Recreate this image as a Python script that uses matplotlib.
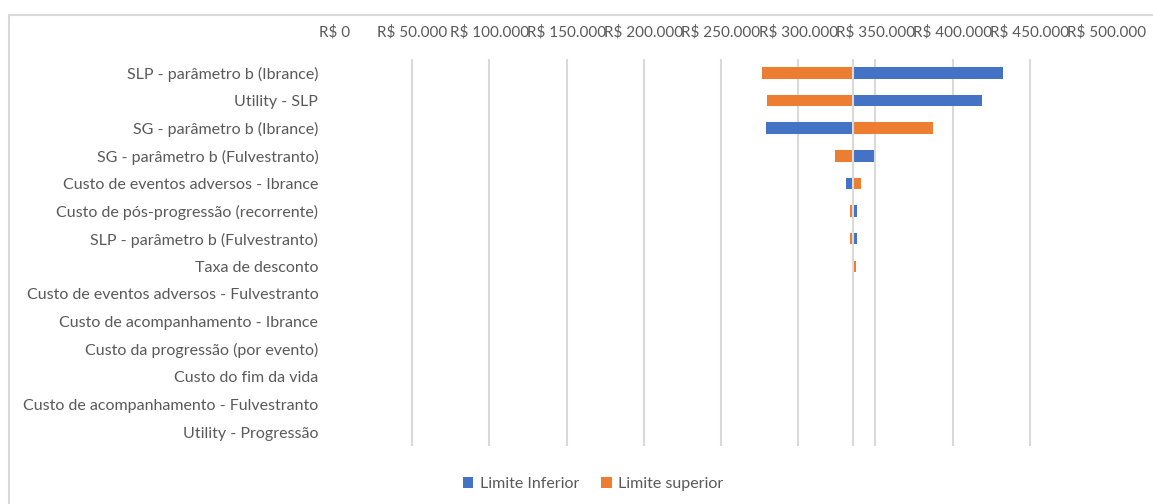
import numpy as np
import matplotlib.pyplot as plt
from matplotlib.patches import Rectangle

plt.rcParams["font.family"] = ["Lato", "DejaVu Sans"]

params = [
    "SLP - parâmetro b (Ibrance)",
    "Utility - SLP",
    "SG - parâmetro b (Ibrance)",
    "SG - parâmetro b (Fulvestranto)",
    "Custo de eventos adversos - Ibrance",
    "Custo de pós-progressão (recorrente)",
    "SLP - parâmetro b (Fulvestranto)",
    "Taxa de desconto",
    "Custo de eventos adversos - Fulvestranto",
    "Custo de acompanhamento - Ibrance",
    "Custo da progressão (por evento)",
    "Custo do fim da vida",
    "Custo de acompanhamento - Fulvestranto",
    "Utility - Progressão",
]

base_value = 335400

limite_inferior = [432700, 419300, 279400, 348800, 330700, 337800, 337800,
                   335400, 335400, 335400, 335400, 335400, 335400, 335400]
limite_superior = [276400, 280000, 387100, 323600, 340900, 333700, 333700,
                   337400, 335400, 335400, 335400, 335400, 335400, 335400]

tick_values = [0, 50000, 100000, 150000, 200000, 250000,
               300000, 350000, 400000, 450000, 500000]
tick_labels = ["R$ 0", "R$ 50.000", "R$ 100.000", "R$ 150.000", "R$ 200.000",
               "R$ 250.000", "R$ 300.000", "R$ 350.000", "R$ 400.000",
               "R$ 450.000", "R$ 500.000"]

blue = "#4472C4"
orange = "#ED7D31"
grid_c = "#D9D9D9"
text_c = "#595959"

fig = plt.figure(figsize=(11.53, 5.04), dpi=100)
ax = fig.add_axes([335 / 1153, 1 - 446 / 504, 772 / 1153, 387 / 504])

y = np.arange(len(params))
inf = np.array(limite_inferior)
sup = np.array(limite_superior)

ax.barh(y, inf - base_value, left=base_value, height=0.42, color=blue,
        label="Limite Inferior", zorder=2)
ax.barh(y, sup - base_value, left=base_value, height=0.42, color=orange,
        label="Limite superior", zorder=2)
ax.axvline(base_value, color=grid_c, lw=1.5, zorder=3)

ax.set_xlim(0, 500000)
ax.set_ylim(len(params) - 0.5, -0.5)
ax.set_xticks(tick_values)
ax.set_xticklabels(tick_labels)
ax.set_yticks(y)
ax.set_yticklabels(params)

ax.xaxis.tick_top()
ax.tick_params(axis="x", length=0, pad=14, labelsize=11, labelcolor=text_c)
ax.tick_params(axis="y", length=0, pad=12, labelsize=11.5, labelcolor=text_c)

ax.grid(axis="x", color=grid_c, lw=1.5, zorder=0)
ax.set_axisbelow(True)
gl = ax.get_xgridlines()
gl[0].set_visible(False)
gl[-1].set_visible(False)

for s in ax.spines.values():
    s.set_visible(False)

fig.legend(loc="center", bbox_to_anchor=(593 / 1153, 1 - 484 / 504), ncol=2,
           frameon=False, fontsize=11.5, labelcolor=text_c, handlelength=0.65,
           handleheight=0.65, handletextpad=0.4, columnspacing=1.4)

fig.patches.append(Rectangle((8.5 / 1153, -0.05), 1.2, 1 - 14.5 / 504 + 0.05,
                             transform=fig.transFigure, fill=False,
                             edgecolor=grid_c, lw=1.5))

fig.savefig("out.png", dpi=100)
